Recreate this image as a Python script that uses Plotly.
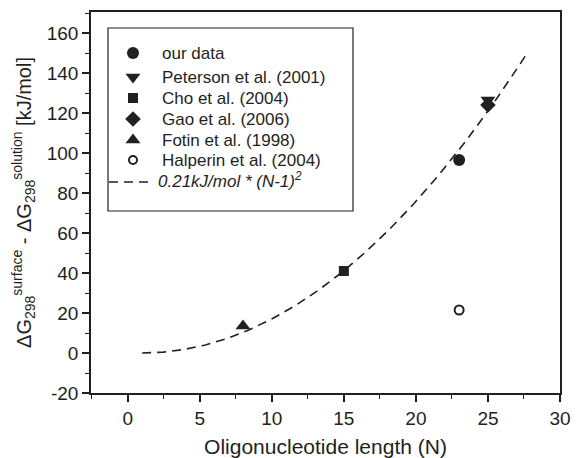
import plotly.graph_objects as go
import numpy as np

# ---- data ----
series_names = ["our data", "Peterson et al. (2001)", "Cho et al. (2004)",
                "Gao et al. (2006)", "Fotin et al. (1998)", "Halperin et al. (2004)"]
series_x = [[23], [25], [15], [25], [8], [23]]
series_y = [[96.5], [126.5], [41], [124], [13.5], [21.5]]
series_symbols = ["circle", "triangle-down", "square", "diamond", "triangle-up", "circle-open"]
series_sizes = [12, 13, 10, 12, 13, 9]

fit_coef = 0.21          # kJ/mol
fit_n_start = 1.0
fit_n_end = 27.8
fit_label = "<i>0.21kJ/mol * (N-1)<sup>2</sup></i>"

x_ticks = [0, 5, 10, 15, 20, 25, 30]
y_ticks = [-20, 0, 20, 40, 60, 80, 100, 120, 140, 160]
y_ticklabels = ["-20", "0", "20", "40", "60", "80", "100", "120", "140", "160"]

INK = "#231f20"
FONT = "Liberation Sans, Arial, Helvetica, sans-serif"

fig = go.Figure()

# fit curve
n_fit = np.linspace(fit_n_start, fit_n_end, 200)
fig.add_trace(go.Scatter(x=n_fit, y=fit_coef * (n_fit - 1) ** 2, mode="lines",
                         line=dict(color=INK, width=1.6, dash="9px,6px"),
                         showlegend=False, hoverinfo="skip"))

# data points
for name, xv, yv, sym, sz in zip(series_names, series_x, series_y, series_symbols, series_sizes):
    if sym.endswith("open"):
        mk = dict(symbol=sym, size=sz, color=INK, line=dict(color=INK, width=2))
    else:
        mk = dict(symbol=sym, size=sz, color=INK, line=dict(width=0))
    fig.add_trace(go.Scatter(x=xv, y=yv, mode="markers", name=name, marker=mk,
                             showlegend=False))

# ---- manual legend on a pixel-like overlay axis ----
leg_left, leg_top, leg_right, leg_bottom = 108, 28, 353, 211
row_y = [53, 77, 98, 119, 140, 160]
marker_x = 133
text_x = 160
for name, sym, sz, ry in zip(series_names, series_symbols, series_sizes, row_y):
    lsz = sz if not sym.endswith("open") else 8
    if sym.endswith("open"):
        mk = dict(symbol=sym, size=lsz, color=INK, line=dict(color=INK, width=2))
    else:
        mk = dict(symbol=sym, size=lsz, color=INK, line=dict(width=0))
    fig.add_trace(go.Scatter(x=[marker_x], y=[ry], xaxis="x2", yaxis="y2", mode="markers",
                             marker=mk, showlegend=False, hoverinfo="skip"))
    fig.add_annotation(x=text_x, y=ry, xref="x2", yref="y2", text=name, showarrow=False,
                       xanchor="left", yanchor="middle",
                       font=dict(family=FONT, size=17, color=INK))
fig.add_trace(go.Scatter(x=[109, 148], y=[182, 182], xaxis="x2", yaxis="y2", mode="lines",
                         line=dict(color=INK, width=1.6, dash="9px,6px"),
                         showlegend=False, hoverinfo="skip"))
fig.add_annotation(x=text_x - 4, y=180, xref="x2", yref="y2", text=fit_label, showarrow=False,
                   xanchor="left", yanchor="middle",
                   font=dict(family=FONT, size=17, color=INK))
fig.add_shape(type="rect", xref="x2", yref="y2", x0=leg_left, y0=leg_top, x1=leg_right, y1=leg_bottom,
              line=dict(color=INK, width=1.2), fillcolor="rgba(0,0,0,0)")

axis_common = dict(showgrid=False, zeroline=False, showline=True, linecolor=INK, linewidth=1.6,
                   mirror=True, ticks="outside", ticklen=7, tickwidth=1.5, tickcolor=INK,
                   tickfont=dict(family=FONT, size=19, color=INK))

fig.update_layout(
    width=576, height=458,
    margin=dict(l=91, r=16, t=12, b=65),
    paper_bgcolor="white", plot_bgcolor="white",
    showlegend=False,
    font=dict(family=FONT, color=INK),
    xaxis=dict(range=[-2.55, 30], tickvals=x_ticks, automargin=False,
               minor=dict(dtick=2.5, tick0=0, ticks="outside", ticklen=4, tickwidth=1.3, tickcolor=INK),
               title=dict(text="Oligonucleotide length (N)", font=dict(family=FONT, size=21, color=INK),
                          standoff=17),
               **axis_common),
    yaxis=dict(range=[-20, 170.5], tickvals=y_ticks, ticktext=y_ticklabels, automargin=False,
               minor=dict(dtick=10, tick0=0, ticks="outside", ticklen=4, tickwidth=1.3, tickcolor=INK),
               title=dict(text="ΔG<sub>298</sub><sup>surface</sup> - ΔG<sub>298</sub><sup>solution</sup> [kJ/mol]",
                          font=dict(family=FONT, size=20, color=INK), standoff=10),
               **axis_common),
    xaxis2=dict(overlaying="x", anchor="y2", range=[91, 560], visible=False, fixedrange=True),
    yaxis2=dict(overlaying="y", anchor="x2", range=[393, 12], visible=False, fixedrange=True),
)

fig.write_html("out.html")
